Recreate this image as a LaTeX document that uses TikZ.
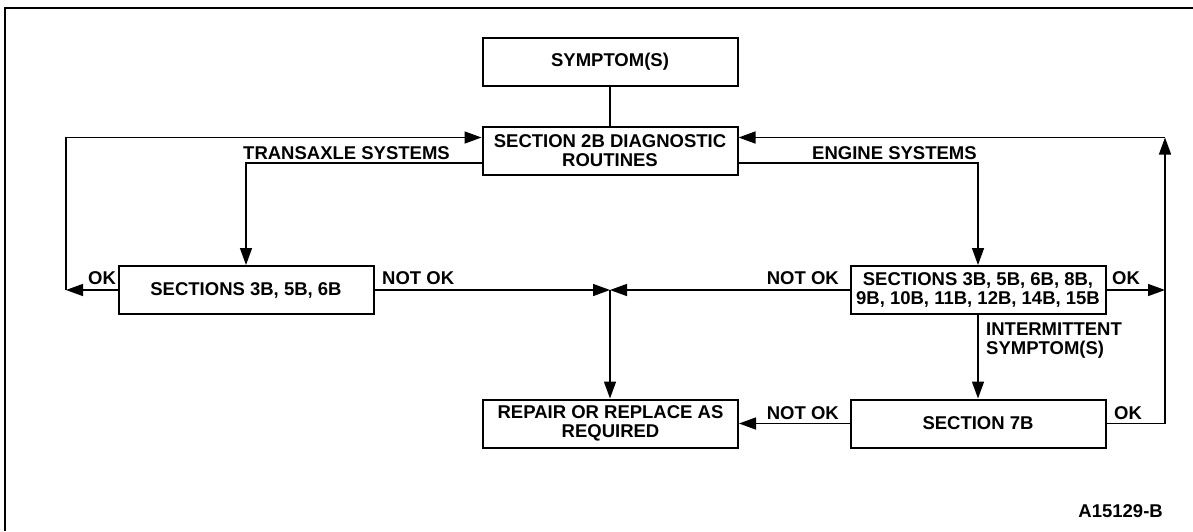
\documentclass[tikz,border=0pt]{standalone}
\usepackage{fontspec}
\setmainfont{Liberation Sans}
\usetikzlibrary{arrows.meta}
\begin{document}
\begin{tikzpicture}[x=1pt,y=-1pt,
  font=\fontsize{18.5}{19}\selectfont\bfseries,
  box/.style={draw, line width=2pt, minimum width=255pt, minimum height=48pt, inner sep=0pt, align=center},
  conn/.style={line width=1.5pt},
  arr/.style={conn, -{Triangle[length=17pt,width=12pt]}},
  lbl/.style={inner sep=0pt}]
\useasboundingbox (0,0) rectangle (1193,531);
\draw[line width=2pt] (5,531) -- (5,8) -- (1193,8);

\node[box] (sym) at (610,61.5) {SYMPTOM(S)};
\node[box] (diag) at (610,150.5) {SECTION 2B DIAGNOSTIC\\ROUTINES};
\node[box] (tx) at (246,290) {SECTIONS 3B, 5B, 6B};
\node[box] (eng) at (978,290) {SECTIONS 3B, 5B, 6B, 8B,\\9B, 10B, 11B, 12B, 14B, 15B};
\node[box] (s7) at (978,423.5) {SECTION 7B};
\node[box] (rep) at (610.5,423.5) {REPAIR OR REPLACE AS\\REQUIRED};

\coordinate (J) at (610,290);
\coordinate (L) at (66,290);
\coordinate (R) at (1165,290);
\coordinate (Rtop) at (1165,137.5);

\draw[conn] (sym) -- (diag);
\draw[arr] ([yshift=-12.5pt]diag.west) -| (tx.north);
\draw[arr] ([yshift=-12.5pt]diag.east) -| (eng.north);
\draw[arr] (tx.west) -- (L);
\draw[arr] (L) |- ([yshift=13pt]diag.west);
\draw[arr] (tx.east) -- (J);
\draw[arr] (eng.west) -- (J);
\draw[arr] (J) -- (J |- rep.north);
\draw[arr] (eng.east) -- (R);
\draw[arr] (eng.south) -- (s7.north);
\draw[arr] (s7.west) -- (rep.east);
\draw[arr] (s7.east) -| (Rtop);
\draw[arr] (Rtop) -- (diag.east |- Rtop);

\node[lbl, anchor=west] (ltx) at (243,153) {TRANSAXLE SYSTEMS};
\node[lbl, anchor=west] (leng) at (812,153) {ENGINE SYSTEMS};
\node[lbl, anchor=west] (lok1) at (88,278.5) {OK};
\node[lbl, anchor=west] (lnok1) at (382,278) {NOT OK};
\node[lbl, anchor=east] (lnok2) at (839,278) {NOT OK};
\node[lbl, anchor=west] (lok2) at (1112,278) {OK};
\node[lbl, anchor=north west, align=left] (lint) at (986,323) {INTERMITTENT\\SYMPTOM(S)};
\node[lbl, anchor=east] (lnok3) at (839,413) {NOT OK};
\node[lbl, anchor=west] (lok3) at (1114,413) {OK};
\node[lbl, anchor=east] (fig) at (1163,511.5) {A15129-B};
\end{tikzpicture}
\end{document}
